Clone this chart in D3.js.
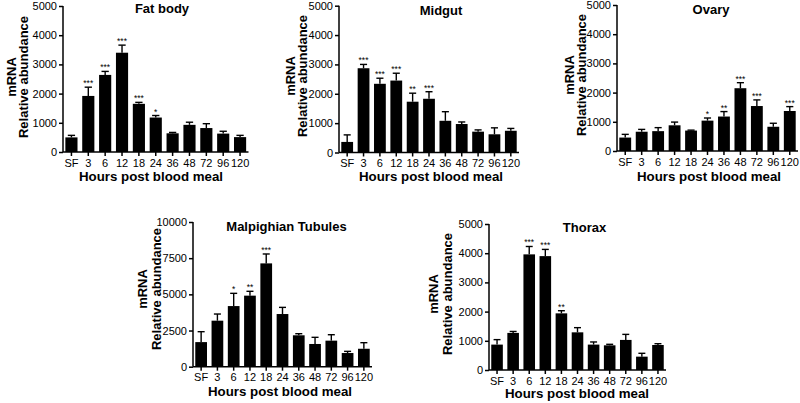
<!DOCTYPE html>
<html><head><meta charset="utf-8">
<script src="https://cdn.jsdelivr.net/npm/d3@7"></script>
<style>body{margin:0;background:#fff}svg{display:block}text{font-family:"Liberation Sans",Arial,Helvetica,sans-serif}</style>
</head><body>
<svg id="c" width="800" height="403"></svg>
<script>
const categories = ["SF","3","6","12","18","24","36","48","72","96","120"];

const fatBodyMean = [500,1920,2640,3400,1650,1180,640,930,820,630,510];
const fatBodyErr  = [70,300,120,260,50,70,30,90,150,80,60];
const fatBodyStars = ["","***","***","***","***","*","","","","",""];

const midgutMean = [360,2870,2340,2450,1730,1830,1080,970,710,620,740];
const midgutErr  = [240,130,190,250,290,240,310,70,60,220,80];
const midgutStars = ["","***","***","***","**","***","","","","",""];

const ovaryMean = [460,660,680,880,700,1040,1180,2150,1540,830,1370];
const ovaryErr  = [110,80,120,110,15,90,170,190,210,120,150];
const ovaryStars = ["","","","","","*","**","***","***","","***"];

const malpMean = [1700,3180,4190,4910,7140,3640,2170,1570,1800,945,1240];
const malpErr  = [720,460,880,300,650,460,110,460,410,115,420];
const malpStars = ["","","*","**","***","","","","","",""];

const thoraxMean = [870,1270,3960,3900,1940,1290,870,845,1030,457,856];
const thoraxErr  = [170,50,270,230,90,160,90,35,190,115,45];
const thoraxStars = ["","","***","***","**","","","","","",""];

const ticks5000 = [0,1000,2000,3000,4000,5000];
const ticks10000 = [0,2500,5000,7500,10000];

const panels = [
  {title:"Fat body", mean:fatBodyMean, err:fatBodyErr, stars:fatBodyStars, yMax:5000, ticks:ticks5000,
   x0:63, x1:248.5, y0:152, y1:6, tx:162, ty:13, l1:15.5, l2:27.5, ly:77, xtx:151, xty:181},
  {title:"Midgut", mean:midgutMean, err:midgutErr, stars:midgutStars, yMax:5000, ticks:ticks5000,
   x0:339, x1:519, y0:152.5, y1:5.7, tx:441, ty:14.5, l1:295, l2:307, ly:76, xtx:431, xty:181},
  {title:"Ovary", mean:ovaryMean, err:ovaryErr, stars:ovaryStars, yMax:5000, ticks:ticks5000,
   x0:617, x1:798, y0:151, y1:5, tx:711, ty:14, l1:573.5, l2:585.5, ly:75, xtx:709, xty:181},
  {title:"Malpighian Tubules", mean:malpMean, err:malpErr, stars:malpStars, yMax:10000, ticks:ticks10000,
   x0:193, x1:372, y0:366.7, y1:222, tx:286.5, ty:231, l1:147, l2:161, ly:289, xtx:280, xty:396},
  {title:"Thorax", mean:thoraxMean, err:thoraxErr, stars:thoraxStars, yMax:5000, ticks:ticks5000,
   x0:489, x1:666, y0:370, y1:224, tx:584.5, ty:232, l1:438, l2:452, ly:294, xtx:577, xty:398}
];

const svg = d3.select("#c");

panels.forEach(p => {
  const g = svg.append("g");
  const x = d3.scaleBand().domain(categories).range([p.x0, p.x1]).paddingInner(0.28).paddingOuter(0.14);
  const y = d3.scaleLinear().domain([0, p.yMax]).range([p.y0, p.y1]);
  const data = categories.map((c,i)=>({c, m:p.mean[i], e:p.err[i], s:p.stars[i]}));

  // bars
  g.selectAll("rect.bar").data(data).join("rect")
    .attr("x", d=>x(d.c)).attr("width", x.bandwidth())
    .attr("y", d=>y(d.m)).attr("height", d=>y(0)-y(d.m))
    .attr("fill","#000");

  // error bars (upper only)
  const cap = x.bandwidth()*0.6;
  g.selectAll("line.ev").data(data).join("line")
    .attr("x1", d=>x(d.c)+x.bandwidth()/2).attr("x2", d=>x(d.c)+x.bandwidth()/2)
    .attr("y1", d=>y(d.m)).attr("y2", d=>y(d.m+d.e))
    .attr("stroke","#000").attr("stroke-width",1.4);
  g.selectAll("line.ec").data(data).join("line")
    .attr("x1", d=>x(d.c)+x.bandwidth()/2-cap/2).attr("x2", d=>x(d.c)+x.bandwidth()/2+cap/2)
    .attr("y1", d=>y(d.m+d.e)).attr("y2", d=>y(d.m+d.e))
    .attr("stroke","#000").attr("stroke-width",1.4);

  // stars
  g.selectAll("text.star").data(data.filter(d=>d.s)).join("text")
    .attr("x", d=>x(d.c)+x.bandwidth()/2).attr("y", d=>y(d.m+d.e)-1)
    .attr("text-anchor","middle").attr("font-size","8.5px").text(d=>d.s);

  // y axis
  const ya = g.append("g").attr("transform",`translate(${p.x0},0)`)
    .call(d3.axisLeft(y).tickValues(p.ticks).tickSize(4).tickPadding(2).tickFormat(d3.format("d")));
  ya.select(".domain").attr("stroke-width",1.5).attr("d",`M0,${p.y0}V${p.y1}`);
  ya.selectAll(".tick line").attr("stroke-width",1.5);
  ya.selectAll(".tick text").attr("font-size","11px").attr("fill","#000");
  ya.attr("font-family",null);

  // x axis
  const xa = g.append("g").attr("transform",`translate(0,${p.y0})`)
    .call(d3.axisBottom(x).tickSize(4).tickPadding(3));
  xa.select(".domain").attr("stroke-width",1.5).attr("d",`M${p.x0},0H${p.x1}`);
  xa.selectAll(".tick line").attr("stroke-width",1.5);
  xa.selectAll(".tick text").attr("font-size","11px").attr("fill","#000");
  xa.attr("font-family",null);

  // title
  g.append("text").attr("x",p.tx).attr("y",p.ty).attr("text-anchor","middle")
    .attr("font-size","13px").attr("font-weight","bold").text(p.title);

  // x title
  g.append("text").attr("x",p.xtx).attr("y",p.xty).attr("text-anchor","middle")
    .attr("font-size","13.3px").attr("font-weight","bold").text("Hours post blood meal");

  // y title (two lines)
  g.append("text").attr("transform",`translate(${p.l1},${p.ly}) rotate(-90)`).attr("text-anchor","middle")
    .attr("font-size","13px").attr("font-weight","bold").text("mRNA");
  g.append("text").attr("transform",`translate(${p.l2},${p.ly}) rotate(-90)`).attr("text-anchor","middle")
    .attr("font-size","13px").attr("font-weight","bold").text("Relative abundance");
});
</script>
</body></html>
